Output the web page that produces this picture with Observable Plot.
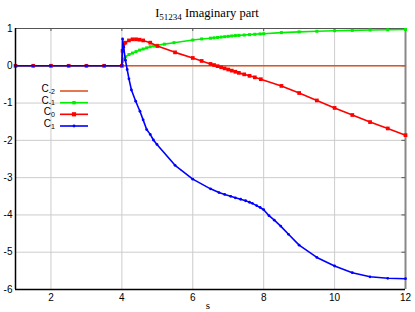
<!DOCTYPE html>
<html><head><meta charset="utf-8">
<script src="https://cdn.jsdelivr.net/npm/d3@7"></script>
<script src="https://cdn.jsdelivr.net/npm/@observablehq/plot@0.6"></script>
<style>body{margin:0;background:#fff}svg{display:block}</style>
</head><body><div id="chart"></div>
<script>
const xTicks = [2, 4, 6, 8, 10, 12];
const yTicks = [-6, -5, -4, -3, -2, -1, 0, 1];

const sCm2 = [1, 12];
const vCm2 = [0, 0];

const sCm1 = [1,1.5,2,2.5,3,3.5,4,4.02,4.05,4.1,4.2,4.3,4.4,4.5,4.6,4.7,4.8,4.9,5.0,5.2,5.47,6.0,6.25,6.5,6.6,6.7,6.8,6.9,7.0,7.1,7.2,7.3,7.45,7.6,7.75,7.9,8.0,8.5,9.0,9.5,10,10.5,11,11.5,12];
const vCm1 = [0,0,0,0,0,0,0,0.12,0.18,0.24,0.3,0.34,0.38,0.42,0.45,0.48,0.51,0.53,0.55,0.58,0.62,0.69,0.72,0.74,0.75,0.76,0.77,0.78,0.79,0.8,0.81,0.815,0.825,0.835,0.845,0.855,0.86,0.89,0.91,0.925,0.94,0.95,0.96,0.965,0.975];

const sC0 = [1,1.5,2,2.5,3,3.5,4,4.02,4.1,4.2,4.3,4.4,4.5,4.6,4.8,5.0,5.5,6.0,6.25,6.5,6.6,6.7,6.8,6.9,7.0,7.1,7.2,7.3,7.45,7.6,7.75,7.92,8.5,9.0,9.5,10,10.5,11,11.5,12];
const vC0 = [0,0,0,0,0,0,0,0.4,0.62,0.68,0.71,0.71,0.70,0.68,0.62,0.53,0.36,0.21,0.13,0.05,0.02,-0.01,-0.04,-0.07,-0.1,-0.13,-0.16,-0.19,-0.23,-0.27,-0.31,-0.36,-0.54,-0.73,-0.93,-1.13,-1.32,-1.51,-1.68,-1.86];

const sC1 = [1,1.5,2,2.5,3,3.5,4,4.02,4.05,4.1,4.15,4.2,4.27,4.39,4.51,4.6,4.7,4.8,4.89,4.99,5.5,6.0,6.5,6.74,6.9,7.07,7.2,7.35,7.49,7.6,7.68,7.8,7.9,8.0,8.15,8.3,8.48,8.7,9.0,9.5,10,10.5,11,11.5,12];
const vC1 = [0,0,0,0,0,0,0,0.72,0.5,0.15,-0.1,-0.35,-0.65,-0.95,-1.22,-1.45,-1.71,-1.84,-1.99,-2.11,-2.67,-3.04,-3.3,-3.40,-3.45,-3.50,-3.54,-3.58,-3.62,-3.66,-3.69,-3.75,-3.8,-3.86,-4.02,-4.14,-4.3,-4.52,-4.81,-5.14,-5.37,-5.55,-5.66,-5.70,-5.71];

const seriesNames = ["C-2", "C-1", "C0", "C1"];
const seriesSub = ["-2", "-1", "0", "1"];
const colors = ["#dd5522", "#00ee00", "#ff0000", "#0000ff"];

const toRows = (s, v) => s.map((x, i) => ({s: x, v: v[i]}));
const dCm2 = toRows(sCm2, vCm2), dCm1 = toRows(sCm1, vCm1), dC0 = toRows(sC0, vC0), dC1 = toRows(sC1, vC1);

const W = 415, H = 312;
const plot = Plot.plot({
  width: W, height: H,
  marginLeft: 15, marginRight: 10, marginTop: 28, marginBottom: 23,
  x: {domain: [1, 12]},
  y: {domain: [-6, 1]},
  style: {fontFamily: "'Liberation Sans', Arial, sans-serif", fontSize: "10px", color: "#000", background: "#fff", overflow: "visible"},
  marks: [
    Plot.gridX([2, 4, 6, 8, 10], {stroke: "#cccccc", strokeOpacity: 1}),
    Plot.gridY([-5, -4, -3, -2, -1, 0], {stroke: "#cccccc", strokeOpacity: 1}),
    Plot.ruleY([1], {stroke: "#555", strokeWidth: 1.2}),
    Plot.ruleX([12], {stroke: "#888", strokeWidth: 2}),
    Plot.ruleX([2, 4, 6, 8, 10], {x: d => d, y1: 1, y2: 0.92, stroke: "#555"}),
    Plot.ruleY([-5, -4, -3, -2, -1, 0], {y: d => d, x1: 12, x2: 11.9, stroke: "#555"}),
    Plot.axisX({ticks: xTicks, tickSize: 0, tickPadding: 4, label: null, tickFormat: d => String(d)}),
    Plot.axisY({ticks: yTicks, tickSize: 0, tickPadding: 3, label: null, tickFormat: d => String(d)}),
    Plot.line(dCm2, {x: "s", y: "v", stroke: colors[0], strokeWidth: 1.5}),
    Plot.line(dCm1, {x: "s", y: "v", stroke: colors[1], strokeWidth: 1.6}),
    Plot.dot(dCm1, {x: "s", y: "v", symbol: "square", r: 1.7, fill: colors[1], stroke: "none"}),
    Plot.line(dC0, {x: "s", y: "v", stroke: colors[2], strokeWidth: 1.6}),
    Plot.dot(dC0, {x: "s", y: "v", symbol: "square", r: 2.1, fill: colors[2], stroke: "none"}),
    Plot.line(dC1, {x: "s", y: "v", stroke: colors[3], strokeWidth: 1.6}),
    Plot.dot(dC1, {x: "s", y: "v", r: 1.4, fill: colors[3], stroke: "none"}),
    Plot.ruleX([1], {stroke: "#000", strokeWidth: 1.5}),
    Plot.ruleY([-6], {stroke: "#000", strokeWidth: 1.5})
  ]
});
document.getElementById("chart").appendChild(plot);

const svg = d3.select(plot);
// title
const t = svg.append("text").attr("x", 207).attr("y", 17).attr("text-anchor", "middle")
  .style("font-family", "'Liberation Serif', 'Times New Roman', serif").style("font-size", "12.5px").attr("fill", "#000");
t.append("tspan").text("I");
t.append("tspan").attr("dy", 3).style("font-size", "9px").text("51234");
t.append("tspan").attr("dy", -3).text(" Imaginary part");
// x label
svg.append("text").attr("x", 208).attr("y", 309).attr("text-anchor", "middle")
  .style("font-family", "'Liberation Serif', 'Times New Roman', serif").style("font-size", "11px").text("s");

// legend
const ly = [91, 102.7, 114.3, 126];
seriesNames.forEach((n, i) => {
  const g = svg.append("g");
  const tx = g.append("text").attr("x", 55).attr("y", ly[i] + 1).attr("text-anchor", "end")
    .style("font-family", "'Liberation Sans', Arial, sans-serif").style("font-size", "10px").attr("fill", "#000");
  tx.append("tspan").text("C");
  tx.append("tspan").attr("dy", 1.5).style("font-size", "7px").text(seriesSub[i]);
  g.append("line").attr("x1", 60).attr("x2", 88).attr("y1", ly[i]).attr("y2", ly[i])
    .attr("stroke", colors[i]).attr("stroke-width", 1.6);
  if (i === 1 || i === 2) {
    const s = i === 1 ? 3.4 : 4.2;
    g.append("rect").attr("x", 74 - s / 2).attr("y", ly[i] - s / 2).attr("width", s).attr("height", s).attr("fill", colors[i]);
  } else if (i === 3) {
    g.append("circle").attr("cx", 74).attr("cy", ly[i]).attr("r", 1.4).attr("fill", colors[i]);
  }
});
</script></body></html>
